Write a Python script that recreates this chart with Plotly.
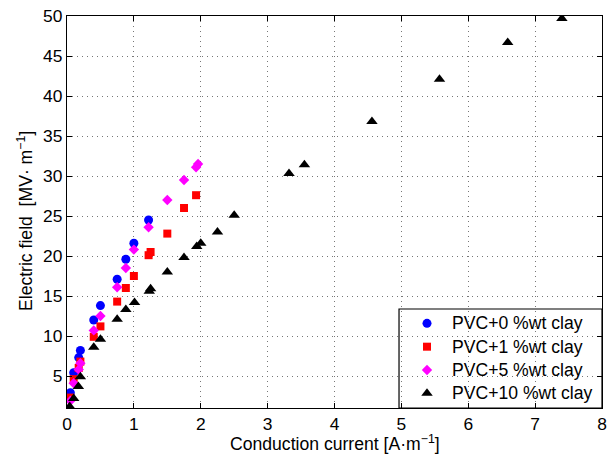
import plotly.graph_objects as go

# Conduction current [A/m] and electric field [MV/m] for each PVC/clay blend
pvc0_x = [0.05, 0.10, 0.175, 0.20, 0.40, 0.50, 0.75, 0.88, 1.00, 1.22]
pvc0_y = [2.9, 5.4, 7.3, 8.2, 12.0, 13.8, 17.1, 19.6, 21.6, 24.5]

pvc1_x = [0.05, 0.10, 0.175, 0.20, 0.40, 0.50, 0.75, 0.88, 1.00, 1.22, 1.25, 1.50, 1.75, 1.93]
pvc1_y = [2.3, 4.6, 6.0, 6.8, 9.9, 11.2, 14.3, 16.0, 17.5, 20.1, 20.5, 22.8, 26.0, 27.6]

pvc5_x = [0.05, 0.10, 0.175, 0.20, 0.40, 0.50, 0.75, 0.88, 1.00, 1.22, 1.50, 1.75, 1.93, 1.96]
pvc5_y = [1.9, 4.1, 5.8, 6.6, 10.7, 12.5, 16.1, 18.5, 20.8, 23.6, 27.0, 29.5, 31.1, 31.5]

pvc10_x = [0.04, 0.10, 0.17, 0.20, 0.40, 0.50, 0.75, 0.88, 1.01, 1.23, 1.25, 1.50, 1.75,
           1.94, 2.00, 2.25, 2.50, 3.32, 3.55, 4.56, 5.57, 6.59, 7.40]
pvc10_y = [1.2, 2.2, 3.7, 4.9, 8.6, 9.6, 12.1, 13.3, 14.2, 15.6, 15.9, 18.0, 19.8,
           21.2, 21.6, 23.0, 25.1, 30.3, 31.4, 36.8, 42.1, 46.7, 49.7]

labels = ["PVC+0 %wt clay", "PVC+1 %wt clay", "PVC+5 %wt clay", "PVC+10 %wt clay"]
xs_all = [pvc0_x, pvc1_x, pvc5_x, pvc10_x]
ys_all = [pvc0_y, pvc1_y, pvc5_y, pvc10_y]
symbols = ["circle", "square", "diamond", "triangle-up"]
colors = ["#0000ff", "#ff0000", "#ff00ff", "#000000"]
sizes = [9, 8, 8, 10]

x_ticks = [0, 1, 2, 3, 4, 5, 6, 7, 8]
y_ticks = [5, 10, 15, 20, 25, 30, 35, 40, 45, 50]

FONT = "Liberation Sans, Arial, Helvetica, sans-serif"
FS = 17.6

fig = go.Figure()
for name, xs, ys, sym, col, sz in zip(labels, xs_all, ys_all, symbols, colors, sizes):
    fig.add_trace(go.Scatter(
        x=xs, y=ys, mode="markers", name=name, showlegend=False,
        marker=dict(symbol=sym, color=col, size=sz, line=dict(width=0)),
    ))

# Legend box: drawn on a unit overlay axis in the lower-right corner
box_x0, box_x1, box_y0, box_y1 = 0.6206, 1.0, 0.0, 0.2526
sym_x, txt_x = 0.6729, 0.7159
row_y = [0.216, 0.1564, 0.0969, 0.0375]

fig.add_shape(type="rect", xref="x2", yref="y2", layer="below",
              x0=box_x0, x1=box_x1, y0=box_y0, y1=box_y1,
              fillcolor="white", line=dict(color="black", width=1.2))
for i in range(len(labels)):
    fig.add_trace(go.Scatter(
        x=[sym_x], y=[row_y[i]], xaxis="x2", yaxis="y2", mode="markers",
        showlegend=False, hoverinfo="skip",
        marker=dict(symbol=symbols[i], color=colors[i], size=sizes[i], line=dict(width=0)),
    ))
    fig.add_annotation(x=txt_x, y=row_y[i], xref="paper", yref="paper",
                       text=labels[i], showarrow=False, xanchor="left", yanchor="middle",
                       font=dict(family=FONT, size=FS, color="black"))

axis_common = dict(
    showline=True, linecolor="black", linewidth=1.2, mirror="ticks",
    ticks="inside", ticklen=5, tickcolor="black",
    showgrid=True, gridcolor="#777777", gridwidth=1, griddash="1px,4px",
    zeroline=False,
    tickfont=dict(family=FONT, size=17.4, color="black"),
)

fig.update_xaxes(range=[0, 8], tickvals=x_ticks, ticktext=[str(v) for v in x_ticks],
                 **axis_common)
fig.update_yaxes(range=[1, 50], tickvals=y_ticks, ticktext=[str(v) for v in y_ticks],
                 **axis_common)

fig.update_layout(
    xaxis2=dict(overlaying="x", range=[0, 1], visible=False, fixedrange=True),
    yaxis2=dict(overlaying="y", range=[0, 1], visible=False, fixedrange=True),
)

# Axis titles
fig.add_annotation(x=0.5, y=-0.0893, xref="paper", yref="paper",
                   text="Conduction current [A·m<sup>−1</sup>]", showarrow=False,
                   xanchor="center", yanchor="middle",
                   font=dict(family=FONT, size=FS, color="black"))
fig.add_annotation(x=-0.0785, y=0.477, xref="paper", yref="paper",
                   text="Electric field \u00a0[MV· m<sup>−1</sup>]", showarrow=False,
                   textangle=-90, xanchor="center", yanchor="middle",
                   font=dict(family=FONT, size=FS, color="black"))

fig.update_layout(
    width=613, height=461,
    margin=dict(l=67, r=11, t=16, b=53, autoexpand=False),
    paper_bgcolor="white", plot_bgcolor="white",
    font=dict(family=FONT, size=FS, color="black"),
    showlegend=False,
)

fig.write_html("out.html")
